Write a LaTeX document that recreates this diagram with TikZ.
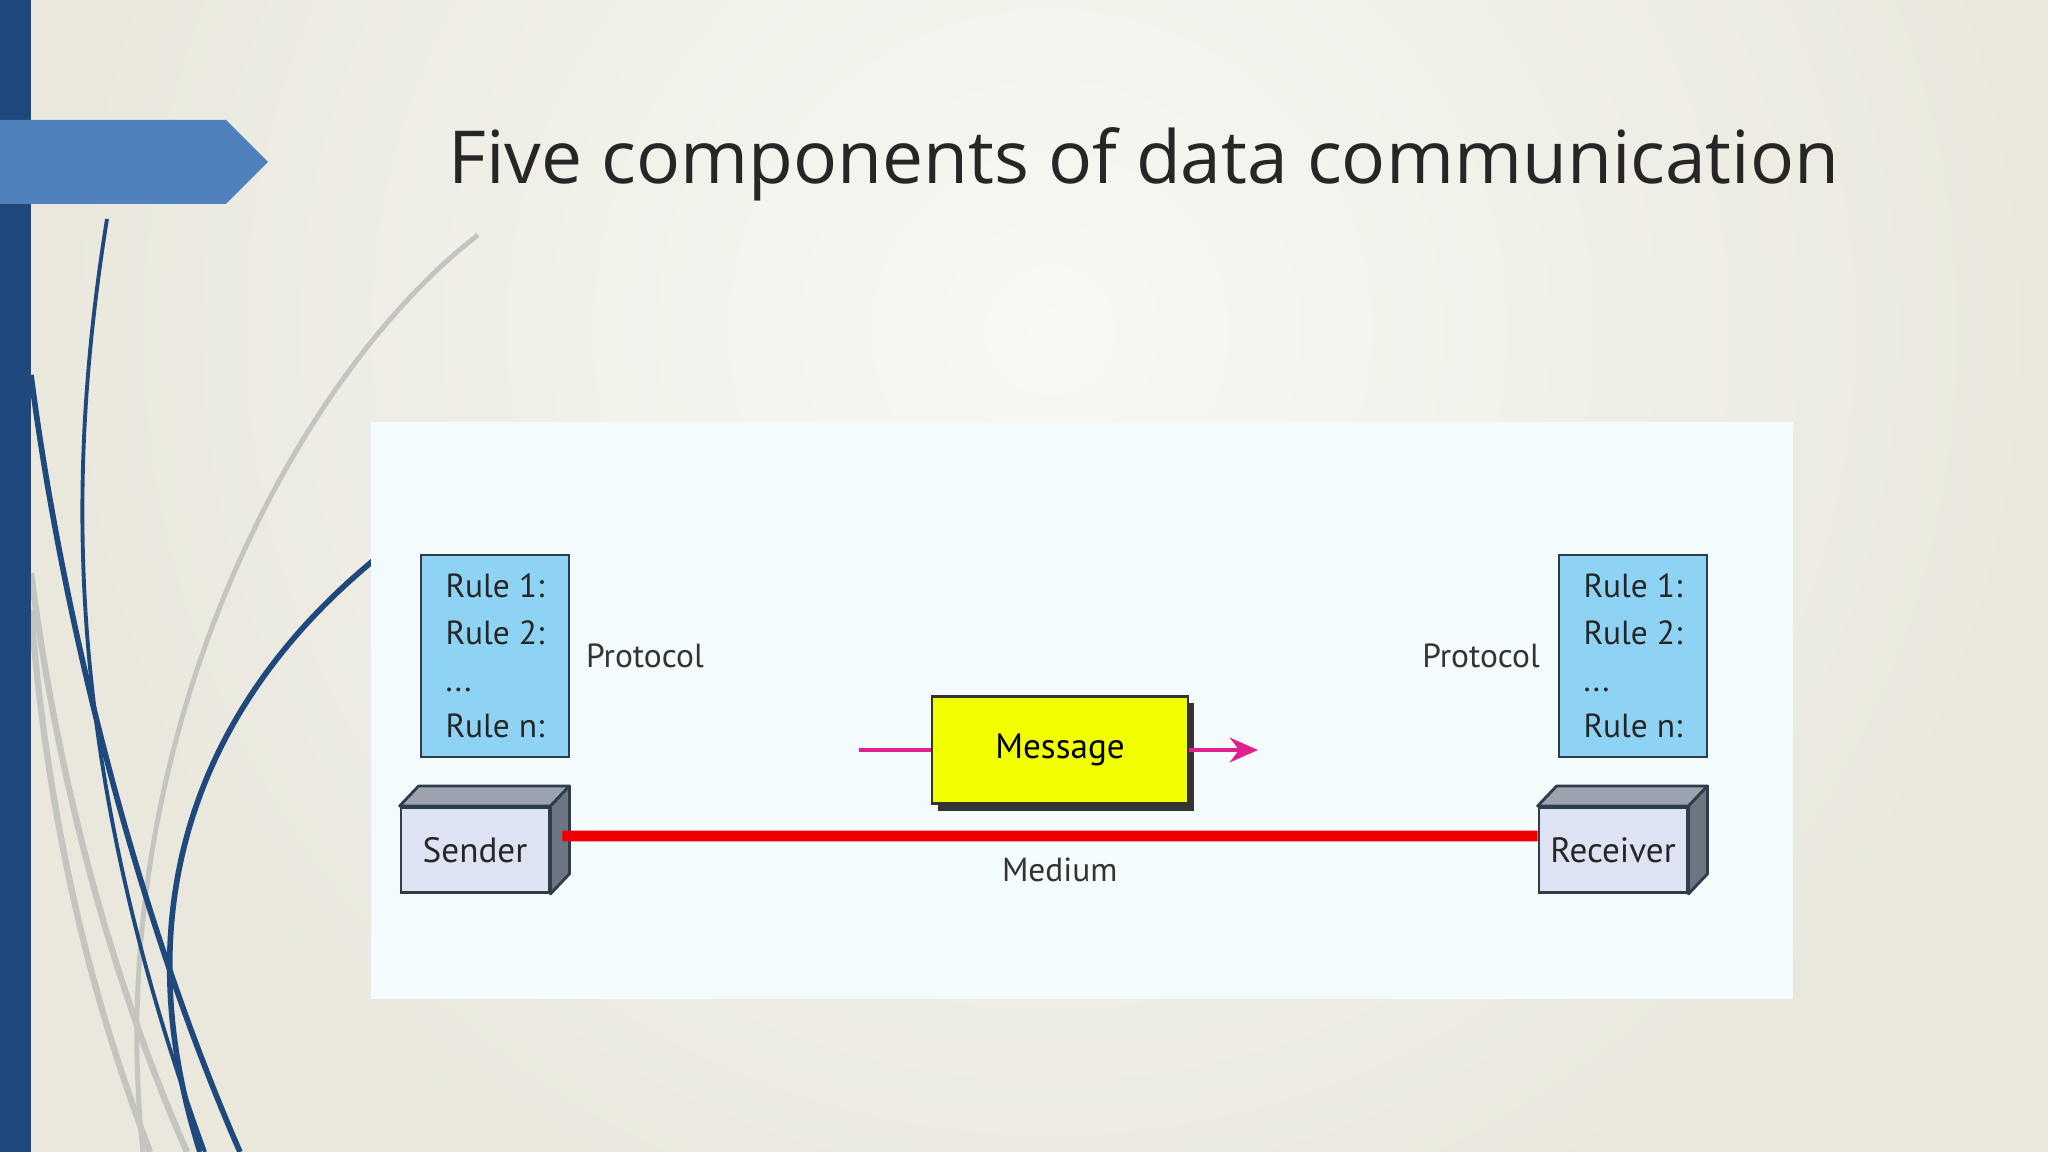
\documentclass[tikz,border=0pt]{standalone}
\usepackage{fontspec}
\setmainfont{Open Sans}
\newfontfamily\diagfont{PT Sans}
\usetikzlibrary{positioning,shadows,arrows.meta}
\definecolor{bgout}{HTML}{EAE8DD}
\definecolor{bgin}{HTML}{F8F8F4}
\definecolor{barblue}{HTML}{1F497D}
\definecolor{bannerblue}{HTML}{4F81BD}
\definecolor{swirlgray}{HTML}{C4C4C0}
\definecolor{panelfill}{HTML}{F4FBFD}
\definecolor{rulefill}{HTML}{8FD3F4}
\definecolor{edgegray}{HTML}{2E3D4A}
\definecolor{frontfill}{HTML}{DDE3F3}
\definecolor{topfill}{HTML}{9BA3AF}
\definecolor{sidefill}{HTML}{6D7582}
\definecolor{medred}{HTML}{EE0000}
\definecolor{flowpink}{HTML}{E0208C}
\definecolor{msgyellow}{HTML}{F2FF00}
\definecolor{titlegray}{HTML}{262626}
\begin{document}
\begin{tikzpicture}[x=0.01cm,y=-0.01cm,
 font=\diagfont\fontsize{9.5}{13.3}\selectfont,
 rules/.style={draw=edgegray,line width=0.8pt,fill=rulefill,align=left,minimum width=1.48cm,minimum height=2.02cm,inner sep=0pt,text=black!85},
 devfront/.style={draw=edgegray,line width=0.8pt,fill=frontfill,minimum width=1.48cm,minimum height=0.85cm,inner sep=0pt,text=black!85,font=\diagfont\fontsize{10}{12}\selectfont},
 face/.style={draw=edgegray,line width=0.8pt,line join=round},
 lbl/.style={inner sep=0pt,text=black!80},
 msgbox/.style={draw=black!80,line width=0.8pt,fill=msgyellow,minimum width=2.56cm,minimum height=1.07cm,font=\diagfont\fontsize{10}{12}\selectfont,
   drop shadow={shadow xshift=0.06cm,shadow yshift=-0.07cm,fill=black!80,opacity=1}},
 flow/.style={draw=flowpink,line width=1.3pt},
 medium/.style={draw=medred,line width=3pt},
 swirl/.style={draw=barblue,line width=1.6pt},
 greyswirl/.style={draw=swirlgray,line width=1.8pt}]
\useasboundingbox (0,0) rectangle (2048,1152);
\clip (0,0) rectangle (2048,1152);
% background
\fill[bgout] (0,0) rectangle (2048,1152);
\shade[inner color=bgin,outer color=bgout] (1050,330) circle [radius=10cm];
% left decoration
\draw[greyswirl,line width=1.4pt] (478,235) .. controls (290,380) and (100,750) .. (143,1152);
\draw[greyswirl] (31,573) .. controls (60,800) and (120,1000) .. (187,1152);
\draw[greyswirl] (31,610) .. controls (50,850) and (100,1020) .. (150,1152);
\draw[swirl,line width=1.1pt] (107,219) .. controls (62,500) and (70,780) .. (205,1152);
\draw[swirl] (31,375) .. controls (60,600) and (130,900) .. (240,1152);
\draw[swirl] (420,525) .. controls (200,680) and (120,900) .. (200,1152);
\fill[barblue] (0,0) rectangle (31,1152);
\fill[bannerblue] (0,120) -- (226,120) -- (268,162) -- (226,204) -- (0,204) -- cycle;
\node[font=\fontsize{20.8}{25}\selectfont,text=titlegray] (title) at (1144,164) {Five components of data communication};
% diagram
\fill[panelfill] (371,422) rectangle (1793,999);
\node[rules] (rulesL) at (495,656) {Rule 1:\\Rule 2:\\...\\Rule n:};
\node[rules] (rulesR) at (1633,656) {Rule 1:\\Rule 2:\\...\\Rule n:};
\node[lbl,right=0.15cm of rulesL] (protoL) {Protocol};
\node[lbl,left=0.17cm of rulesR] (protoR) {Protocol};
\node[devfront] (sndr) at (475,850) {Sender};
\node[devfront] (rcvr) at (1613,850) {Receiver};
\foreach \d in {sndr,rcvr}{
 \draw[face,fill=topfill] (\d.north west) -- ++(19,-20) -- ([shift={(19,-20)}]\d.north east) -- (\d.north east) -- cycle;
 \draw[face,fill=sidefill] (\d.north east) -- ++(19,-20) -- ([shift={(19,-20)}]\d.south east) -- (\d.south east) -- cycle;
}
\draw[medium] ([shift={(12,-14)}]sndr.east) -- node[lbl,pos=0.51,below=0.17cm] (medlbl) {Medium} ([yshift=0.14cm]rcvr.west);
\node[msgbox] (msg) at (1060,750) {Message};
\coordinate (msgin) at (859,750);
\coordinate (msgout) at (1258,750);
\draw[flow] (msgin) -- (msg);
\draw[flow,->,>={Stealth[length=8pt,width=7pt]}] (msg) -- (msgout);
\end{tikzpicture}
\end{document}
